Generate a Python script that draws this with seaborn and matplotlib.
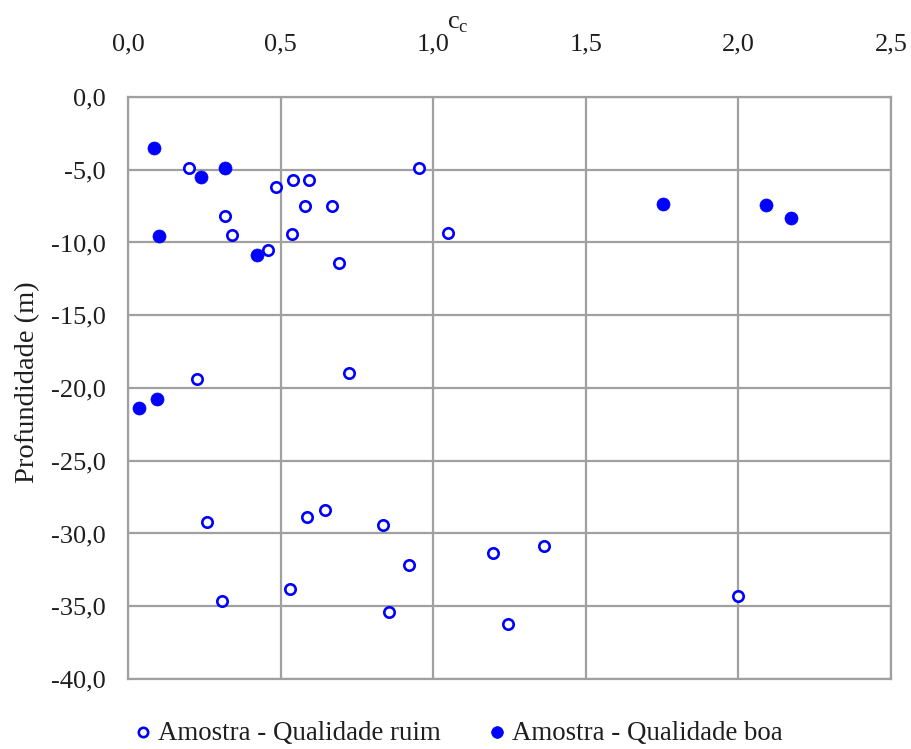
import matplotlib
matplotlib.use("Agg")
import matplotlib.pyplot as plt
import seaborn as sns
import pandas as pd
from matplotlib.ticker import FuncFormatter

# Data: "Amostra - Qualidade ruim" (open) and "Amostra - Qualidade boa" (filled)
ruim_cc = [0.201, 0.952, 0.540, 0.593, 0.486, 0.580, 0.668, 0.318, 0.339, 0.538,
           1.049, 0.459, 0.692, 0.226, 0.723, 0.258, 0.586, 0.645, 0.836, 1.196,
           1.363, 0.920, 0.530, 0.308, 0.854, 1.244, 2.000]
ruim_prof = [-4.86, -4.86, -5.72, -5.72, -6.19, -7.47, -7.47, -8.18, -9.49, -9.44,
             -9.35, -10.52, -11.39, -19.40, -18.95, -29.19, -28.87, -28.36, -29.39, -31.34,
             -30.89, -32.16, -33.81, -34.67, -35.38, -36.25, -34.32]
boa_cc = [0.086, 0.318, 0.239, 0.102, 0.421, 1.753, 2.091, 2.171, 0.037, 0.096]
boa_prof = [-3.48, -4.90, -5.48, -9.55, -10.86, -7.33, -7.39, -8.33, -21.40, -20.78]

label_ruim = "Amostra - Qualidade ruim"
label_boa = "Amostra - Qualidade boa"
xticks = [0.0, 0.5, 1.0, 1.5, 2.0, 2.5]
yticks = [0, -5, -10, -15, -20, -25, -30, -35, -40]

df_ruim = pd.DataFrame({"cc": ruim_cc, "prof": ruim_prof})
df_boa = pd.DataFrame({"cc": boa_cc, "prof": boa_prof})

sns.set_style("white")
plt.rcParams["font.family"] = ["Liberation Serif", "DejaVu Serif"]
plt.rcParams["mathtext.fontset"] = "custom"
plt.rcParams["mathtext.rm"] = "Liberation Serif"

FS = 19
txt = "#1e1e1e"
fig = plt.figure(figsize=(9.12, 7.49), dpi=100)
ax = fig.add_axes([0.1405, 0.0935, 0.8365, 0.777])

blue = "#0000FF"
sns.scatterplot(data=df_ruim, x="cc", y="prof", ax=ax, marker="o", s=56,
                facecolor="white", edgecolor=blue, linewidth=1.9,
                label=label_ruim, zorder=3, legend=False)
sns.scatterplot(data=df_boa, x="cc", y="prof", ax=ax, marker="o", s=88,
                color=blue, edgecolor=blue, linewidth=0.5,
                label=label_boa, zorder=4, legend=False)

ax.set_xlim(0, 2.5)
ax.set_ylim(-40, 0)
ax.set_xticks(xticks)
ax.set_yticks(yticks)
fmt = FuncFormatter(lambda v, p: f"{v:.1f}".replace(".", ","))
ax.xaxis.set_major_formatter(fmt)
ax.yaxis.set_major_formatter(fmt)
ax.xaxis.tick_top()
ax.xaxis.set_label_position("top")
ax.tick_params(axis="both", length=0, labelsize=FS, colors=txt)
ax.tick_params(axis="x", pad=30)
ax.tick_params(axis="y", pad=16)

ax.grid(True, color="#a0a0a0", linewidth=1.6)
ax.set_axisbelow(True)
for sp in ax.spines.values():
    sp.set_color("#a0a0a0")
    sp.set_linewidth(1.6)

ax.set_xlabel(r"c$_\mathregular{c}$", fontsize=FS, color=txt)
ax.xaxis.set_label_coords(0.432, 1.118)
ax.set_ylabel("Profundidade (m)", fontsize=20.5, color=txt)
ax.yaxis.set_label_coords(-0.115, 0.51)

handles, labels = ax.get_legend_handles_labels()
fig.legend(handles, labels, loc="center", bbox_to_anchor=(459 / 912, 1 - 733 / 749),
           ncol=2, frameon=False, fontsize=19.4, handlelength=0.6,
           handletextpad=0.25, columnspacing=1.8, labelcolor=txt,
           borderaxespad=0, borderpad=0, markerscale=0.9)

fig.savefig("out.png", dpi=100)
